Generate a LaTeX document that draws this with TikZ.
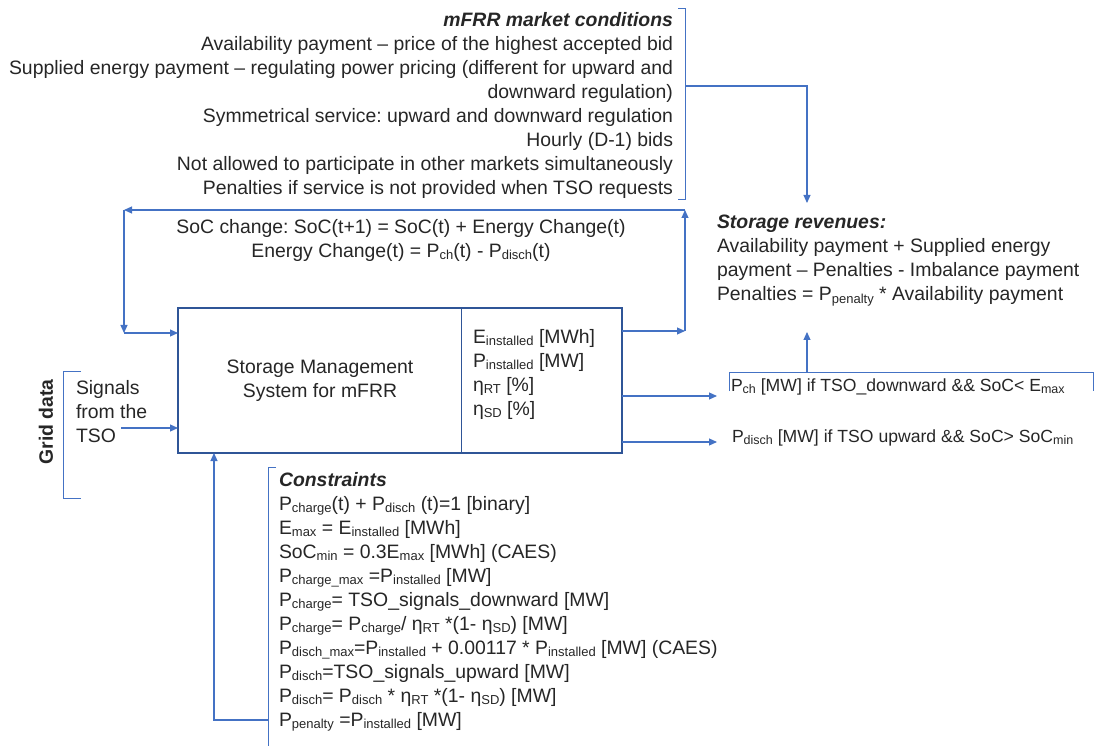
\documentclass[tikz,border=0pt]{standalone}
\usepackage{fontspec}
\setmainfont{Liberation Sans}
\usetikzlibrary{arrows.meta}
\definecolor{conn}{HTML}{4472C4}
\definecolor{boxc}{HTML}{2F5597}
\definecolor{txt}{HTML}{262626}
\frenchspacing
\newcommand\fs{\fontsize{19.4}{24}\selectfont}
\newcommand\fsm{\fontsize{17.6}{24}\selectfont}
\newcommand\lo[1]{\raisebox{-0.25ex}{\fontsize{13}{13}\selectfont #1}}
\newcommand\los[1]{\raisebox{-0.25ex}{\fontsize{12.5}{12.5}\selectfont #1}}
\begin{document}
\begin{tikzpicture}[x=1pt,y=-1pt,
  every node/.style={inner sep=0pt, outer sep=0pt, text=txt, font=\fs},
  arr/.style={conn, line width=1.1pt, -{Triangle[length=8pt,width=7pt]}},
  brk/.style={conn, line width=0.9pt}]
\useasboundingbox (0,0) rectangle (1096,746);

% market conditions
\node[align=right, anchor=north east] (mkt) at (673,12) {\textbf{\textit{mFRR market conditions}}\\
Availability payment – price of the highest accepted bid\\
Supplied energy payment – regulating power pricing (different for upward and\\
downward regulation)\\
Symmetrical service: upward and downward regulation\\
Hourly (D-1) bids\\
Not allowed to participate in other markets simultaneously\\
Penalties if service is not provided when TSO requests};
\draw[brk] (678,8) -- (685,8) -- (685,199) -- (678,199);

% storage revenues
\node[align=left, anchor=north west] (rev) at (717,215) {\textbf{\textit{Storage revenues:}}\\
Availability payment + Supplied energy\\
payment – Penalties - Imbalance payment\\
Penalties = P\lo{penalty} * Availability payment};
\coordinate (bm) at (685,86);
\coordinate (revtop) at (807,203);
\draw[arr] (bm) -| (revtop);

% SoC text
\node[align=center] (soc) at (401,240) {SoC change: SoC(t+1) = SoC(t) + Energy Change(t)\\
Energy Change(t) = P\lo{ch}(t) - P\lo{disch}(t)};

% main box
\node[draw=boxc, line width=1.5pt, minimum width=444pt, minimum height=145pt, anchor=north west] (smb) at (178,308) {};
\coordinate (dv) at (461,308);
\draw[boxc, line width=1pt] (dv) -- (dv |- smb.south);
\node[align=center] (sml) at (320,381) {Storage Management\\System for mFRR};
\node[align=left, anchor=north west] (par) at (473,329) {E\lo{installed} [MWh]\\
P\lo{installed} [MW]\\
η\lo{RT} [\%]\\
η\lo{SD} [\%]};

% SoC loop
\coordinate (r1) at (685,331);
\coordinate (r2) at (685,210);
\coordinate (l1) at (124,210);
\coordinate (l2) at (124,333);
\draw[arr] (smb.east |- r1) -- (r1);
\draw[arr] (r1) -- (r2);
\draw[arr] (r2) -- (l1);
\draw[arr] (l1) -- (l2);
\draw[arr] (l2) -- (smb.west |- l2);

% outputs
\coordinate (pch) at (717,396);
\coordinate (pdis) at (717,442);
\draw[arr] (smb.east |- pch) -- (pch);
\draw[arr] (smb.east |- pdis) -- (pdis);
\node[anchor=base west, font=\fsm] (pchl) at (731,391) {P\los{ch} [MW] if TSO\_downward \&\& SoC< E\los{max}};
\node[anchor=base west, font=\fsm] (pdisl) at (732,442) {P\los{disch} [MW] if TSO upward \&\& SoC> SoC\los{min}};
\draw[brk] (729,391) -- (729,372) -- (1093,372) -- (1093,391);
\coordinate (pb) at (807,372);
\coordinate (revbot) at (807,332);
\draw[arr] (pb) -- (revbot);

% grid data
\node[rotate=90, font=\fs\bfseries] (grid) at (46,422) {Grid data};
\draw[brk] (81,371) -- (63,371) -- (63,498) -- (81,498);
\node[align=left, anchor=north west] (sig) at (76,380) {Signals\\from the\\TSO};
\coordinate (sa) at (121,428);
\draw[arr] (sa) -- (smb.west |- sa);

% constraints
\node[align=left, anchor=north west] (con) at (279,472) {\textbf{\textit{Constraints}}\\
P\lo{charge}(t) + P\lo{disch} (t)=1 [binary]\\
E\lo{max} = E\lo{installed} [MWh]\\
SoC\lo{min} = 0.3E\lo{max} [MWh] (CAES)\\
P\lo{charge\_max} =P\lo{installed} [MW]\\
P\lo{charge}= TSO\_signals\_downward [MW]\\
P\lo{charge}= P\lo{charge}/ η\lo{RT} *(1- η\lo{SD}) [MW]\\
P\lo{disch\_max}=P\lo{installed} + 0.00117 * P\lo{installed} [MW] (CAES)\\
P\lo{disch}=TSO\_signals\_upward [MW]\\
P\lo{disch}= P\lo{disch} * η\lo{RT} *(1- η\lo{SD}) [MW]\\
P\lo{penalty} =P\lo{installed} [MW]};
\draw[brk] (276,467) -- (268,467) -- (268,746);
\coordinate (cb) at (268,720);
\coordinate (cu) at (214,720);
\draw[arr] (cb) -- (cu) -- (cu |- smb.south);
\end{tikzpicture}
\end{document}
